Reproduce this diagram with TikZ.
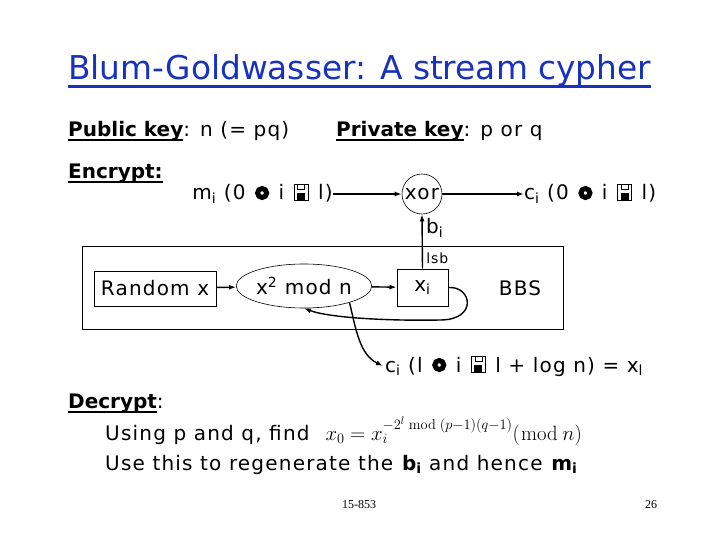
\documentclass[tikz,border=0pt]{standalone}
\usepackage[no-math]{fontspec}
\setmainfont{DejaVu Sans}[LetterSpace=6, BoldFeatures={LetterSpace=0}]
\newfontfamily\titlefont{DejaVu Sans}
\newfontfamily\footfont{Liberation Serif}
\usetikzlibrary{arrows.meta,positioning,shapes.geometric}

\definecolor{titleblue}{RGB}{25,50,190}
\newcommand\lo[1]{\textsubscript{#1}}
\newsavebox\ulbox
% underline: depth, thickness, text
\newcommand\ul[3]{\sbox\ulbox{#3}\rlap{\rule[-#1]{\wd\ulbox}{#2}}\usebox\ulbox}
% the two glyphs that stand in for the inequality signs
\newcommand\ringsym{\hspace{2pt}\tikz[baseline=-7pt]\draw[line width=5pt] (0pt,0pt) circle (4.5pt);\hspace{2pt}}
\newcommand\floppysym{\hspace{2pt}\tikz[baseline=0pt]{\draw[line width=0.9pt] (0pt,0pt) rectangle (14pt,16pt);
  \fill (3pt,0pt) rectangle (11pt,7pt);
  \draw[line width=0.7pt] (3.5pt,16pt) rectangle (10.5pt,10.5pt);}\hspace{2pt}}

\begin{document}
\begin{tikzpicture}[x=1pt, y=-1pt,
  txt/.style={anchor=base west, inner sep=0pt, font=\fontsize{20}{24}\selectfont},
  box/.style={draw, line width=1pt, inner sep=0pt, font=\fontsize{20}{24}\selectfont},
  arrow/.style={-{Latex[length=7pt,width=5pt]}, line width=1.4pt}
]
\useasboundingbox (0,0) rectangle (720,540);

% heading and keys
\node[anchor=base west, inner sep=0pt, font=\titlefont\fontsize{32.8}{38}\selectfont, text=titleblue]
  (title) at (68,80) {\ul{8.5pt}{3pt}{Blum-Goldwasser: A stream cypher}};
\node[txt] (pubkey) at (68,137) {\ul{4.5pt}{2pt}{\textbf{Public key}}: n (= pq)};
\node[txt] (privkey) at (336,137) {\ul{4.5pt}{2pt}{\textbf{Private key}}: p or q};

% encryption
\node[txt] (enc) at (68,179) {\ul{4.5pt}{2pt}{\textbf{Encrypt:}}};
\node[txt, anchor=base east] (mi) at (333,200) {m\lo{i} (0 \ringsym{} i \floppysym{} l)};
\node[circle, draw, line width=0.6pt, minimum size=40pt, inner sep=0pt,
      font=\fontsize{20}{24}\selectfont] (xor) at (422,194) {xor};
\node[txt] (ci) at (524,200) {c\lo{i} (0 \ringsym{} i \floppysym{} l)};

\node[box, minimum width=481pt, minimum height=83pt] (bbsbox) at (322.5,287.5) {};
\node[box, minimum width=122pt, minimum height=35pt] (rnd) at (155,288.5) {Random x};
\node[ellipse, draw, line width=0.6pt, minimum width=120pt, minimum height=44pt,
      inner sep=0pt, font=\fontsize{20}{24}\selectfont] (sq) at (304,286) {x\textsuperscript{2} mod n};
\node[box, minimum width=51pt, minimum height=37pt] (xi) at (422.5,287.5) {x\lo{i}};
\node[font=\fontsize{20}{24}\selectfont] (bbs) at (520,288) {BBS};

\draw[arrow] (mi.east |- xor.west) -- (xor.west);
\draw[arrow] (xor.east) -- (ci.west |- xor.east);
\draw[arrow] (rnd) -- (sq);
\draw[arrow] (sq) -- (xi);
\draw[arrow] (xi.north) -- (xor.south)
  node[pos=0.18, right, font=\fontsize{14}{16}\selectfont] {lsb}
  node[pos=0.75, right, font=\fontsize{20}{24}\selectfont] {b\lo{i}};
\draw[arrow] (xi.east) .. controls (472,286) and (478,320) .. (440,320)
  .. controls (390,321) and (330,318) .. (sq.south);

\node[txt] (cil) at (385,372) {c\lo{i} (l \ringsym{} i \floppysym{} l + log n) = x\lo{l}};
\draw[arrow] (sq.-20) .. controls (356,330) and (360,355) .. ([xshift=-2pt]cil.west);

% decryption
\node[txt] (dec) at (68,408) {\ul{4.5pt}{2pt}{\textbf{Decrypt}}:};
\node[txt] (find) at (105,440) {Using p and q, find\hspace{16pt}{\fontsize{21}{24}\selectfont
  $x_0 = x_i^{-2^l \bmod (p-1)(q-1)}(\bmod\, n)$}};
\node[txt] (regen) at (105,470) {Use this to regenerate the \textbf{b\lo{i}} and hence \textbf{m\lo{i}}};

% footer
\node[font=\footfont\fontsize{12}{14}\selectfont] (course) at (359,505) {15-853};
\node[font=\footfont\fontsize{12}{14}\selectfont] (page) at (651,505) {26};
\end{tikzpicture}
\end{document}
